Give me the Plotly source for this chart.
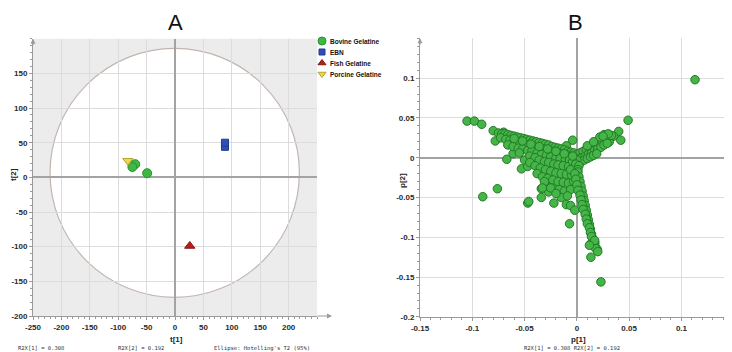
import plotly.graph_objects as go

# ---------------- Panel A: scores t[1] / t[2] ----------------
groups = ["Bovine Gelatine", "EBN", "Fish Gelatine", "Porcine Gelatine"]
bovine_t1 = [-70, -75, -49]
bovine_t2 = [19, 15, 6]
ebn_t1 = [88, 88]
ebn_t2 = [44, 50]
fish_t1 = [26]
fish_t2 = [-99]
porcine_t1 = [-83]
porcine_t2 = [24]

a_xticks = [-250, -200, -150, -100, -50, 0, 50, 100, 150, 200]
a_yticks = [-200, -150, -100, -50, 0, 50, 100, 150]

# ---------------- Panel B: loadings p[1] / p[2] ----------------
loading_p1 = [
    0.113, 0.049, -0.105, -0.098, -0.091, -0.080, -0.078, -0.070, -0.067, -0.061,
    -0.053, -0.090, -0.076, -0.047, -0.034, -0.034, -0.030, -0.022, -0.010, -0.006,
    -0.002, -0.007, -0.020, -0.027, -0.004, -0.010, 0.042, 0.040, 0.035, 0.031,
    0.0134, 0.023, 0.0194, 0.0172, 0.0134, -0.046, -0.050, -0.047,
    -0.075, -0.072, -0.069, -0.066, -0.063, -0.060, -0.057, -0.054, -0.051, -0.048,
    -0.045, -0.042, -0.039, -0.036, -0.033, -0.030, -0.027, -0.024, -0.021, -0.018,
    -0.015, -0.012, -0.009, -0.006, -0.003,
    -0.073, -0.068, -0.064, -0.059, -0.055, -0.050, -0.046, -0.041, -0.037, -0.032,
    -0.028, -0.023, -0.019, -0.014, -0.010, -0.005,
    -0.066, -0.061, -0.056, -0.052, -0.047, -0.043, -0.038, -0.034, -0.029, -0.025,
    -0.020, -0.016, -0.011, -0.007,
    -0.055, -0.045, -0.040, -0.036, -0.031, -0.027, -0.022, -0.018, -0.013, -0.008,
    -0.003,
    -0.045, -0.040, -0.035, -0.030, -0.025, -0.020, -0.015, -0.010, -0.005,
    -0.038, -0.033, -0.028, -0.023, -0.018, -0.013, -0.008, -0.003,
    -0.030, -0.025, -0.017, -0.012, -0.006, -0.015, -0.009, -0.020, -0.031, -0.033,
    0.000, 0.003, 0.006, 0.009, 0.012, 0.015, 0.018, 0.021, 0.024, 0.027, 0.030, 0.033,
    0.002, 0.005, 0.008, 0.011, 0.014, 0.017, 0.020, 0.023, 0.026, 0.029,
    0.001, 0.004, 0.007, 0.010, 0.013, 0.016, 0.019,
    0.010, 0.016, 0.022, 0.026, 0.030, 0.025,
    -0.002, 0.000, -0.004, -0.001, 0.002, -0.006, 0.001,
    0.001, 0.002, 0.003, 0.004, 0.005, 0.006, 0.007, 0.008, 0.009, 0.010,
    0.011, 0.012, 0.013, 0.014, 0.015, 0.016, 0.017, 0.018, 0.020,
    -0.002, -0.001, 0.000, 0.001, 0.003, 0.004, 0.005, 0.006, 0.008, 0.009,
    0.010, 0.012, 0.013, 0.014, 0.017, 0.012,
    -0.060, -0.052, -0.044, -0.036, -0.028, -0.020, -0.012, -0.004,
]
loading_p2 = [
    0.098, 0.047, 0.046, 0.046, 0.042, 0.034, 0.021, 0.032, -0.002, 0.005,
    -0.014, -0.049, -0.039, -0.057, -0.050, -0.039, -0.030, -0.057, -0.059, -0.060,
    -0.066, -0.083, -0.036, -0.043, 0.022, 0.015, 0.022, 0.033, 0.027, 0.020,
    -0.125, -0.156, -0.115, -0.107, -0.108, -0.055, -0.003, -0.011,
    0.031, 0.030, 0.030, 0.029, 0.028, 0.027, 0.026, 0.025, 0.024, 0.023,
    0.022, 0.021, 0.020, 0.019, 0.018, 0.017, 0.016, 0.014, 0.013, 0.012,
    0.011, 0.010, 0.008, 0.007, 0.006,
    0.025, 0.023, 0.022, 0.020, 0.019, 0.017, 0.016, 0.014, 0.013, 0.011,
    0.010, 0.008, 0.007, 0.005, 0.004, 0.002,
    0.016, 0.014, 0.012, 0.011, 0.009, 0.008, 0.006, 0.004, 0.003, 0.001,
    0.000, -0.001, -0.002, -0.003,
    0.006, 0.002, 0.000, -0.003, -0.005, -0.006, -0.008, -0.009, -0.010, -0.011,
    -0.012,
    -0.006, -0.010, -0.013, -0.015, -0.017, -0.019, -0.020, -0.021, -0.022,
    -0.020, -0.024, -0.026, -0.028, -0.030, -0.031, -0.032, -0.030,
    -0.035, -0.038, -0.040, -0.042, -0.040, -0.050, -0.048, -0.045, -0.030, -0.038,
    0.004, 0.006, 0.008, 0.010, 0.012, 0.014, 0.017, 0.019, 0.022, 0.024, 0.026, 0.028,
    -0.002, 0.000, 0.002, 0.004, 0.006, 0.009, 0.011, 0.013, 0.016, 0.018,
    -0.006, -0.005, -0.003, -0.001, 0.001, 0.003, 0.005,
    0.015, 0.020, 0.026, 0.029, 0.030, 0.027,
    0.000, -0.003, -0.005, -0.008, -0.010, -0.015, -0.015,
    -0.018, -0.024, -0.030, -0.036, -0.042, -0.048, -0.054, -0.060, -0.066, -0.072,
    -0.078, -0.084, -0.090, -0.096, -0.101, -0.106, -0.110, -0.114, -0.118,
    -0.020, -0.027, -0.034, -0.041, -0.047, -0.053, -0.059, -0.065, -0.071, -0.077,
    -0.083, -0.088, -0.094, -0.099, -0.104, -0.110,
    0.024, 0.021, 0.017, 0.014, 0.011, 0.008, 0.005, 0.002,
]

b_xticks = [-0.15, -0.1, -0.05, 0, 0.05, 0.1]
b_yticks = [-0.2, -0.15, -0.1, -0.05, 0, 0.05, 0.1]

W, H = 732, 352
OFF = 8  # the page body adds an 8 px margin around the figure


def px_x(p):
    return (p - OFF) / W


def px_y(p):
    return 1 - (p - OFF) / H


def hyphen_labels(vals):
    return ["%g" % v for v in vals]


tick_font = dict(family="Liberation Sans", size=8, color="#2a2a2a", weight="bold")
grid_c = "#dcdcdc"
zero_c = "#a3a3a3"
axis_c = "#9a9a9a"

green = dict(symbol="circle", size=9, color="#3cb843", line=dict(color="#2a8f30", width=1))
blue = dict(symbol="square", size=7, color="#2f4fb5", line=dict(color="#1f3a90", width=1))
red = dict(symbol="triangle-up", size=9, color="#b3201e", line=dict(color="#8a1512", width=1))
yellow = dict(symbol="triangle-down", size=9, color="#ecd64c", line=dict(color="#b8a330", width=1))

fig = go.Figure()

fig.add_trace(go.Scatter(x=bovine_t1, y=bovine_t2, mode="markers", name=groups[0],
                         marker=green, xaxis="x", yaxis="y"))
fig.add_trace(go.Scatter(x=ebn_t1, y=ebn_t2, mode="markers", name=groups[1],
                         marker=blue, xaxis="x", yaxis="y"))
fig.add_trace(go.Scatter(x=fish_t1, y=fish_t2, mode="markers", name=groups[2],
                         marker=red, xaxis="x", yaxis="y"))
fig.add_trace(go.Scatter(x=porcine_t1, y=porcine_t2, mode="markers", name=groups[3],
                         marker=yellow, xaxis="x", yaxis="y"))

fig.add_trace(go.Scatter(
    x=loading_p1, y=loading_p2, mode="markers", name="loadings",
    marker=dict(symbol="circle", size=8.5, color="#45b548", line=dict(color="#237a27", width=1)),
    xaxis="x2", yaxis="y2"))

# compact legend drawn on a pixel-space overlay axis (screen pixels)
leg_x = 322
leg_y = [41, 52, 63, 74]
leg_markers = [dict(green, size=8), dict(blue, size=6), dict(red, size=7), dict(yellow, size=7)]
for g, yy, mk in zip(groups, leg_y, leg_markers):
    fig.add_trace(go.Scatter(x=[leg_x], y=[yy], mode="markers", marker=mk, name=g,
                             xaxis="x3", yaxis="y3", hoverinfo="skip"))

common_axis = dict(
    showline=True, linecolor=axis_c, linewidth=1, ticks="outside", ticklen=3,
    tickcolor=axis_c, tickfont=tick_font, showgrid=True, gridcolor=grid_c,
    gridwidth=1, zeroline=True, zerolinecolor=zero_c, zerolinewidth=1.6,
    automargin=False,
)

fig.update_layout(
    width=W, height=H,
    margin=dict(l=0, r=0, t=0, b=0, autoexpand=False),
    paper_bgcolor="white", plot_bgcolor="rgba(0,0,0,0)",
    showlegend=False,
    xaxis=dict(common_axis, domain=[px_x(33), px_x(317)], range=[-250, 250],
               tickvals=a_xticks, ticktext=hyphen_labels(a_xticks), anchor="y",
               minor=dict(ticks="outside", ticklen=2, dtick=10, tickcolor=axis_c, showgrid=False)),
    yaxis=dict(common_axis, domain=[px_y(316), px_y(38.7)], range=[-200, 200],
               tickvals=a_yticks, ticktext=hyphen_labels(a_yticks), anchor="x",
               minor=dict(ticks="outside", ticklen=2, dtick=10, tickcolor=axis_c, showgrid=False)),
    xaxis2=dict(common_axis, domain=[px_x(420), 1.0], range=[-0.15, 0.156],
                tickvals=b_xticks, ticktext=hyphen_labels(b_xticks), anchor="y2",
                minor=dict(ticks="outside", ticklen=2, dtick=0.01, tickcolor=axis_c, showgrid=False)),
    yaxis2=dict(common_axis, domain=[px_y(316.9), px_y(38.3)], range=[-0.2, 0.15],
                tickvals=b_yticks, ticktext=hyphen_labels(b_yticks), anchor="x2",
                minor=dict(ticks="outside", ticklen=2, dtick=0.01, tickcolor=axis_c, showgrid=False)),
    xaxis3=dict(domain=[0, 1], range=[OFF, W + OFF], visible=False, fixedrange=True, anchor="y3"),
    yaxis3=dict(domain=[0, 1], range=[H + OFF, OFF], visible=False, fixedrange=True, anchor="x3"),
)

# grey plot background for panel A and the white Hotelling T2 ellipse
fig.add_shape(type="rect", xref="x domain", yref="y domain", x0=0, x1=1, y0=0, y1=1,
              fillcolor="#ececec", line=dict(width=0), layer="below")
fig.add_shape(type="circle", xref="x", yref="y", x0=-220, x1=219, y0=-173, y1=186,
              fillcolor="white", line=dict(color="#c2b6b0", width=1.2), layer="below")

# axis arrows
for xa, ya in (("x", "y"), ("x2", "y2")):
    fig.add_annotation(xref=f"{xa} domain", yref=f"{ya} domain", x=0, y=1.0,
                       axref="pixel", ayref="pixel", ax=0, ay=8, showarrow=True,
                       arrowhead=2, arrowsize=1, arrowwidth=1, arrowcolor=axis_c, text="")
fig.add_annotation(xref="paper", yref="paper", x=px_x(332), y=px_y(316),
                   axref="pixel", ayref="pixel", ax=-16, ay=0, showarrow=True,
                   arrowhead=2, arrowsize=1, arrowwidth=1, arrowcolor=axis_c, text="")


def note(x, y, text, font, xanchor="center", angle=0):
    fig.add_annotation(xref="paper", yref="paper", x=px_x(x), y=px_y(y), text=text,
                       xanchor=xanchor, yanchor="middle", showarrow=False, font=font,
                       textangle=angle, borderpad=0)


# legend texts
leg_font = dict(family="Liberation Sans", size=6.5, color="#111", weight="bold")
for g, yy in zip(groups, leg_y):
    note(329, yy, g, leg_font, xanchor="left")

title_font = dict(family="Liberation Sans", size=22, color="#111")
note(175, 23, "A", title_font)
note(575, 23, "B", title_font)

lab_font = dict(family="Liberation Sans", size=8, color="#222", weight="bold")
note(176, 339, "t[1]", lab_font)
note(14, 175, "t[2]", lab_font, angle=-90)
note(578, 339, "p[1]", lab_font)
note(402, 181, "p[2]", lab_font, angle=-90)

mono = dict(family="DejaVu Sans Mono", size=5.5, color="#333")
note(17, 348, "R2X[1] = 0.308", mono, xanchor="left")
note(117, 348, "R2X[2] = 0.192", mono, xanchor="left")
note(213, 348, "Ellipse: Hotelling's T2 (95%)", mono, xanchor="left")
note(523, 347.5, "R2X[1] = 0.308 R2X[2] = 0.192", mono, xanchor="left")

fig.write_html("out.html")
